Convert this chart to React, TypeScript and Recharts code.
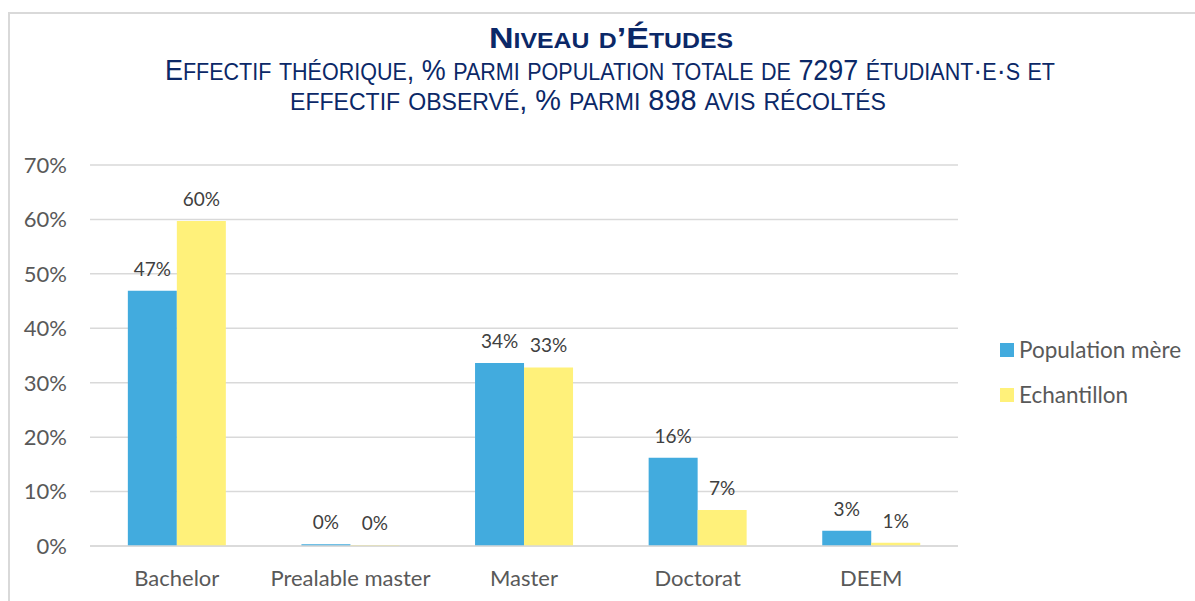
import React from 'react';
import { BarChart, Bar, XAxis, YAxis, CartesianGrid, LabelList } from 'recharts';

const categories = ['Bachelor', 'Prealable master', 'Master', 'Doctorat', 'DEEM'];
const populationMere = [46.9, 0.3, 33.6, 16.2, 2.8];
const echantillon = [59.7, 0.2, 32.8, 6.6, 0.6];
const yTicks = [0, 10, 20, 30, 40, 50, 60, 70];
const seriesNames = ['Population mère', 'Echantillon'];
const colors = ['#42ABDE', '#FFF17A'];
const titleText = 'Niveau d’Études';
const subtitleLines = [
  'Effectif théorique, % parmi population totale de 7297 étudiant·e·s et',
  'effectif observé, % parmi 898 avis récoltés',
];

const data = categories.map((c, i) => ({ name: c, pop: populationMere[i], ech: echantillon[i] }));

const FONT = 'Lato, "Open Sans", sans-serif';
const TITLE_FONT = '"Liberation Sans Narrow", "Arial Narrow", "Liberation Sans", Arial, sans-serif';
const NAVY = '#0B2867';

function smallCapsRuns(text: string, size: number, ratio: number) {
  const runs: { t: string; small: boolean }[] = [];
  for (const ch of text) {
    const isSmall = ch !== ch.toUpperCase();
    const last = runs[runs.length - 1];
    if (last && last.small === isSmall) last.t += ch;
    else runs.push({ t: ch, small: isSmall });
  }
  return runs.map((r, i) => (
    <tspan key={i} fontSize={r.small ? size * ratio : size}>{r.small ? r.t.toUpperCase() : r.t}</tspan>
  ));
}

export default function App() {
  return (
    <div style={{ position: 'absolute', left: 0, top: 0, width: 1195, height: 601, background: '#fff', overflow: 'hidden' }}>
      <div style={{ position: 'absolute', left: 8, top: 12, width: 1200, height: 620, border: '2px solid #D9D9D9', boxSizing: 'border-box' }} />
      <svg width={1195} height={130} style={{ position: 'absolute', left: 0, top: 0 }}>
        <text x={611} y={48} textAnchor="middle" fill={NAVY} fontFamily={TITLE_FONT} fontWeight="bold"
          textLength={244} lengthAdjust="spacingAndGlyphs">{smallCapsRuns(titleText, 30, 0.73)}</text>
        <text x={610} y={80} textAnchor="middle" fill={NAVY} fontFamily={TITLE_FONT}
          textLength={890} lengthAdjust="spacingAndGlyphs">{smallCapsRuns(subtitleLines[0], 29, 0.8)}</text>
        <text x={588} y={110} textAnchor="middle" fill={NAVY} fontFamily={TITLE_FONT}
          textLength={596} lengthAdjust="spacingAndGlyphs">{smallCapsRuns(subtitleLines[1], 29, 0.8)}</text>
      </svg>
      <div style={{ position: 'absolute', left: 0, top: 0 }}>
        <BarChart width={1195} height={601} data={data} margin={{ top: 165, right: 237, bottom: 25, left: 0 }}
          barCategoryGap="21.8%" barGap={0}>
          <CartesianGrid vertical={false} stroke="#D9D9D9" strokeWidth={1.5} />
          <XAxis dataKey="name" axisLine={{ stroke: '#D9D9D9', strokeWidth: 1.5 }} tickLine={false} tickSize={0} tickMargin={24}
            tick={{ fill: '#595959', fontSize: 22, fontFamily: FONT }} interval={0} />
          <YAxis width={90} domain={[0, 70]} ticks={yTicks} axisLine={false} tickLine={false} tickSize={0} tickMargin={23}
            tickFormatter={(v: number) => `${v}%`} tick={{ fill: '#595959', fontSize: 22, fontFamily: FONT }} />
          <Bar dataKey="pop" name={seriesNames[0]} fill={colors[0]} isAnimationActive={false}>
            <LabelList dataKey="pop" position="top" offset={15} formatter={(v: number) => `${Math.round(v)}%`}
              style={{ fill: '#404040', fontSize: 19, fontFamily: FONT }} />
          </Bar>
          <Bar dataKey="ech" name={seriesNames[1]} fill={colors[1]} isAnimationActive={false}>
            <LabelList dataKey="ech" position="top" offset={15} formatter={(v: number) => `${Math.round(v)}%`}
              style={{ fill: '#404040', fontSize: 19, fontFamily: FONT }} />
          </Bar>
        </BarChart>
      </div>
      <div style={{ position: 'absolute', left: 1000, top: 327, fontFamily: FONT, fontSize: 22.5, color: '#595959' }}>
        {seriesNames.map((n, i) => (
          <div key={n} style={{ display: 'flex', alignItems: 'center', height: 45 }}>
            <span style={{ display: 'inline-block', width: 14, height: 14, background: colors[i], marginRight: 5 }} />
            <span>{n}</span>
          </div>
        ))}
      </div>
    </div>
  );
}
